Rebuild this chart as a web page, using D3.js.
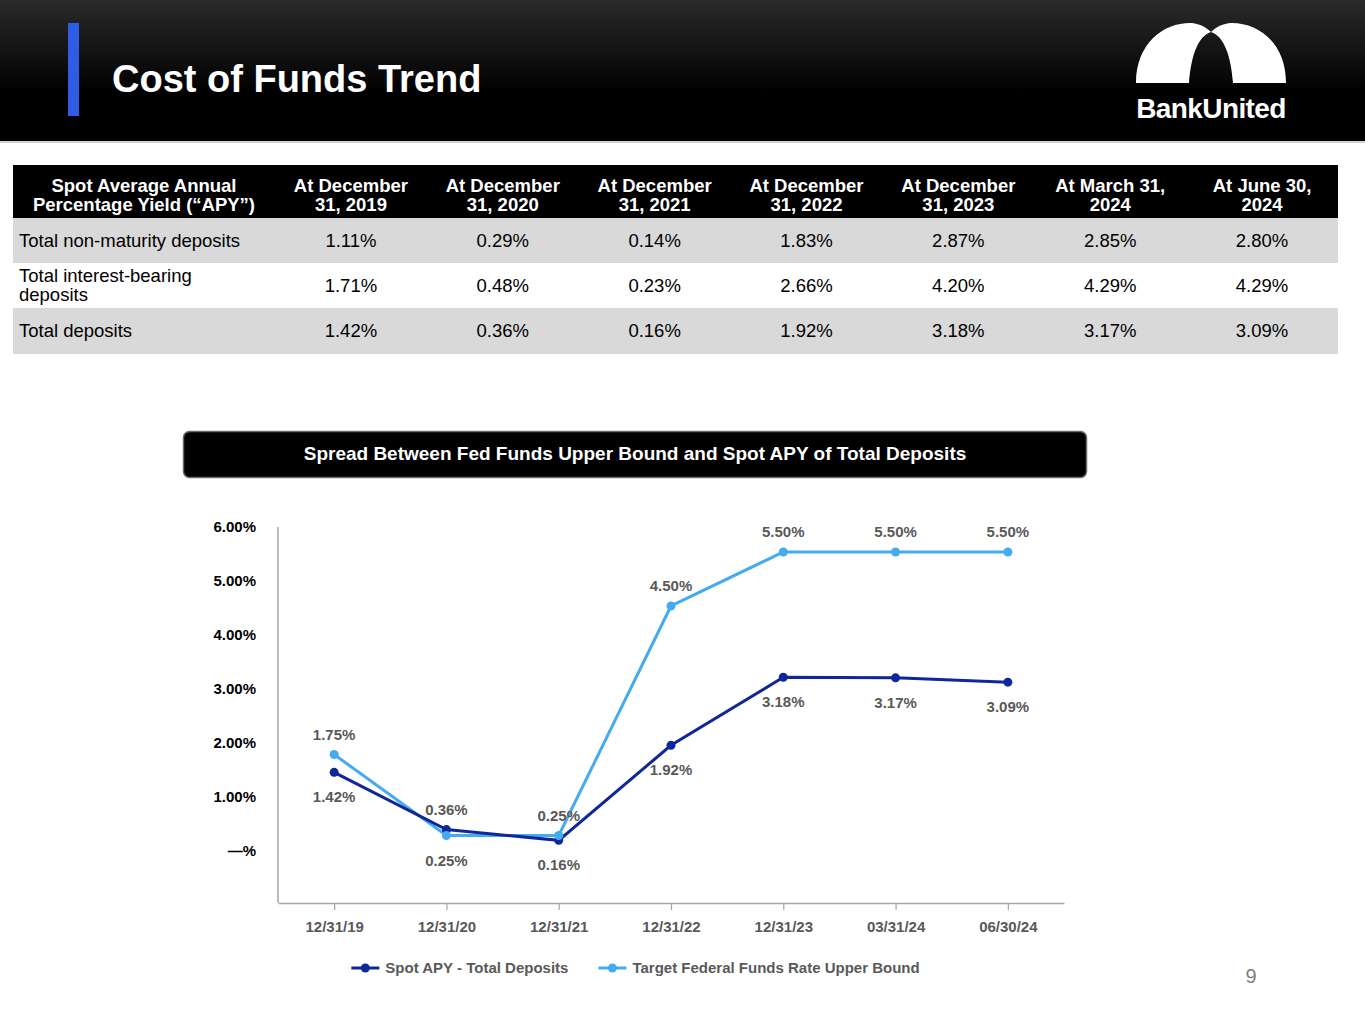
<!DOCTYPE html>
<html>
<head>
<meta charset="utf-8">
<script src="https://cdn.jsdelivr.net/npm/d3@7"></script>
<style>
  body { margin: 0; background: #fff; }
  svg { display: block; font-family: "Liberation Sans", Arial, sans-serif; }
</style>
</head>
<body>
<svg id="page"></svg>
<script>
// Data
const tableColumns = [
  ["Spot Average Annual", "Percentage Yield (\u201CAPY\u201D)"],
  ["At December", "31, 2019"],
  ["At December", "31, 2020"],
  ["At December", "31, 2021"],
  ["At December", "31, 2022"],
  ["At December", "31, 2023"],
  ["At March 31,", "2024"],
  ["At June 30,", "2024"]
];
const rowLabels = [["Total non-maturity deposits"], ["Total interest-bearing", "deposits"], ["Total deposits"]];
const nonMaturity = ["1.11%", "0.29%", "0.14%", "1.83%", "2.87%", "2.85%", "2.80%"];
const interestBearing = ["1.71%", "0.48%", "0.23%", "2.66%", "4.20%", "4.29%", "4.29%"];
const totalDeposits = ["1.42%", "0.36%", "0.16%", "1.92%", "3.18%", "3.17%", "3.09%"];

const dates = ["12/31/19", "12/31/20", "12/31/21", "12/31/22", "12/31/23", "03/31/24", "06/30/24"];
const spotApy = [1.42, 0.36, 0.16, 1.92, 3.18, 3.17, 3.09];
const fedFunds = [1.75, 0.25, 0.25, 4.50, 5.50, 5.50, 5.50];
const yTicks = [0, 1, 2, 3, 4, 5, 6];

// Configuration
const W = 1365, H = 1024;
const navy = "#10279a";
const sky = "#45abf0";
const labelGray = "#595959";

const svg = d3.select("#page").attr("width", W).attr("height", H);

// Header band
function drawHeader() {
  const defs = svg.append("defs");
  const grad = defs.append("linearGradient")
    .attr("id", "hdr").attr("x1", 0).attr("y1", 0).attr("x2", 0).attr("y2", 1);
  grad.append("stop").attr("offset", "0%").attr("stop-color", "#2a2a2c");
  grad.append("stop").attr("offset", "65%").attr("stop-color", "#000");

  svg.append("rect").attr("width", W).attr("height", 142).attr("fill", "url(#hdr)");
  svg.append("rect").attr("y", 141).attr("width", W).attr("height", 2).attr("fill", "#d0d0d0");
  svg.append("rect").attr("x", 68).attr("y", 23).attr("width", 11).attr("height", 93).attr("fill", "#2f5ce6");

  svg.append("text")
    .attr("x", 112).attr("y", 92)
    .attr("fill", "#fff").attr("font-size", 38).attr("font-weight", "bold")
    .text("Cost of Funds Trend");

  // logo
  svg.append("path")
    .attr("fill", "#fff")
    .attr("d", "M1136,83 C1136,42 1165,22 1192,23 C1200,24 1206,27 1211,32 C1216,27 1222,24 1230,23 C1257,22 1286,42 1286,83 L1233,83 C1231,56 1224,36 1211,32 C1198,36 1191,56 1189,83 Z");
  svg.append("text")
    .attr("x", 1211).attr("y", 118)
    .attr("text-anchor", "middle")
    .attr("fill", "#fff").attr("font-size", 28).attr("font-weight", "bold")
    .attr("letter-spacing", -0.6)
    .text("BankUnited");
}

// Table
function drawTable() {
  const left = 13, right = 1338;
  const firstW = 262;
  const colW = (right - left - firstW) / 7;
  const colX = i => left + firstW + colW * i + colW / 2;
  const g = svg.append("g");

  g.append("rect").attr("x", left).attr("y", 165).attr("width", right - left).attr("height", 53).attr("fill", "#000");
  tableColumns.forEach((lines, i) => {
    const x = i === 0 ? left + firstW / 2 : colX(i - 1);
    const t = g.append("text")
      .attr("x", x).attr("y", 192)
      .attr("text-anchor", "middle")
      .attr("fill", "#fff").attr("font-size", 18.5).attr("font-weight", "bold");
    lines.forEach((l, k) => t.append("tspan").attr("x", x).attr("dy", k ? 19 : 0).text(l));
  });

  const rows = [nonMaturity, interestBearing, totalDeposits];
  const rowTop = [218, 263, 308];
  const rowH = [45, 45, 46];
  rows.forEach((vals, r) => {
    if (r !== 1) {
      g.append("rect").attr("x", left).attr("y", rowTop[r]).attr("width", right - left).attr("height", rowH[r]).attr("fill", "#d9d9d9");
    }
    const mid = rowTop[r] + rowH[r] / 2;
    const lines = rowLabels[r];
    const t = g.append("text")
      .attr("x", 19).attr("y", mid + 6 - (lines.length - 1) * 9.5)
      .attr("fill", "#000").attr("font-size", 18.5);
    lines.forEach((l, k) => t.append("tspan").attr("x", 19).attr("dy", k ? 19 : 0).text(l));
    vals.forEach((v, i) => {
      g.append("text")
        .attr("x", colX(i)).attr("y", mid + 6)
        .attr("text-anchor", "middle")
        .attr("fill", "#000").attr("font-size", 18.5)
        .text(v);
    });
  });
}

// Chart title box
function drawChartTitle() {
  svg.append("rect")
    .attr("x", 183.5).attr("y", 431.5).attr("width", 903).attr("height", 46)
    .attr("rx", 6).attr("fill", "#000").attr("stroke", "#6a6a6a").attr("stroke-width", 1.5);
  svg.append("text")
    .attr("x", 635).attr("y", 460)
    .attr("text-anchor", "middle")
    .attr("fill", "#fff").attr("font-size", 19).attr("font-weight", "bold")
    .text("Spread Between Fed Funds Upper Bound and Spot APY of Total Deposits");
}

// Line chart
function drawChart() {
  const x = d3.scalePoint().domain(dates).range([278, 1064]).padding(0.5);
  const y = d3.scaleLinear().domain([-1, 6]).range([903, 525]);

  const yAxis = svg.append("g")
    .attr("transform", "translate(278,0)")
    .call(d3.axisLeft(y).tickValues(yTicks).tickSize(0).tickSizeOuter(0).tickPadding(22)
      .tickFormat(d => d === 0 ? "\u2014%" : d.toFixed(2) + "%"));
  yAxis.select(".domain").attr("stroke", "#a6a6a6").attr("stroke-width", 1.5)
    .attr("d", `M0,${y(6) + 2}V903`);
  yAxis.selectAll("text")
    .attr("font-family", "Liberation Sans, Arial, sans-serif")
    .attr("font-size", 15).attr("font-weight", "bold").attr("fill", "#000")
    .attr("dy", "0.45em");

  const xAxis = svg.append("g")
    .attr("transform", "translate(0,903)")
    .call(d3.axisBottom(x).tickSize(7).tickSizeOuter(0).tickPadding(11));
  xAxis.select(".domain").attr("stroke", "#a6a6a6").attr("stroke-width", 1.5);
  xAxis.selectAll(".tick line").attr("stroke", "#a6a6a6").attr("stroke-width", 1.2);
  xAxis.selectAll("text")
    .attr("font-family", "Liberation Sans, Arial, sans-serif")
    .attr("font-size", 15).attr("font-weight", "bold").attr("fill", labelGray);

  const line = d3.line().x((d, i) => x(dates[i])).y(d => y(d));

  const series = [
    { values: fedFunds, color: sky, above: [true, false, true, true, true, true, true] },
    { values: spotApy, color: navy, above: [false, true, false, false, false, false, false] }
  ];

  series.forEach(s => {
    svg.append("path")
      .datum(s.values)
      .attr("d", line)
      .attr("fill", "none")
      .attr("stroke", s.color)
      .attr("stroke-width", 3);
  });
  series.slice().reverse().forEach(s => {
    svg.append("g").selectAll("circle")
      .data(s.values)
      .join("circle")
      .attr("cx", (d, i) => x(dates[i]))
      .attr("cy", d => y(d))
      .attr("r", 4.5)
      .attr("fill", s.color);
  });
  series.forEach(s => {
    svg.append("g").selectAll("text")
      .data(s.values)
      .join("text")
      .attr("x", (d, i) => x(dates[i]))
      .attr("y", (d, i) => y(d) + (s.above[i] ? -15 : 30))
      .attr("text-anchor", "middle")
      .attr("font-size", 15).attr("font-weight", "bold").attr("fill", labelGray)
      .text(d => d.toFixed(2) + "%");
  });

  // Legend
  const legendItems = [
    { name: "Spot APY - Total Deposits", color: navy },
    { name: "Target Federal Funds Rate Upper Bound", color: sky }
  ];
  const legend = svg.append("g");
  let cx = 0;
  legendItems.forEach((item, i) => {
    const g = legend.append("g").attr("transform", `translate(${cx},0)`);
    g.append("line").attr("x1", 0).attr("x2", 28).attr("stroke", item.color).attr("stroke-width", 3);
    g.append("circle").attr("cx", 14).attr("r", 4.5).attr("fill", item.color);
    const t = g.append("text")
      .attr("x", 34).attr("y", 5)
      .attr("font-size", 15).attr("font-weight", "bold").attr("fill", labelGray)
      .text(item.name);
    cx += 34 + t.node().getComputedTextLength() + 30;
  });
  const legendW = cx - 30;
  legend.attr("transform", `translate(${635.5 - legendW / 2},968)`);

  svg.append("text")
    .attr("x", 1251).attr("y", 983)
    .attr("text-anchor", "middle")
    .attr("fill", "#7f7f7f").attr("font-size", 20)
    .text("9");
}

drawHeader();
drawTable();
drawChartTitle();
drawChart();
</script>
</body>
</html>
